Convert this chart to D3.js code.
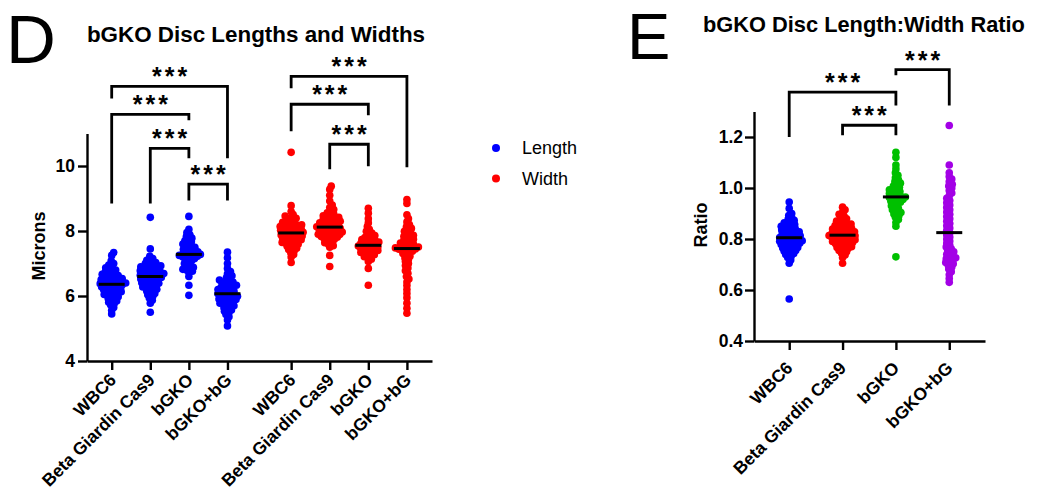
<!DOCTYPE html>
<html>
<head>
<meta charset="utf-8">
<script src="https://cdn.jsdelivr.net/npm/d3@7"></script>
<style>
body { margin: 0; background: #fff; }
text { font-family: "Liberation Sans", Arial, sans-serif; fill: #000; }
.axis path, .axis line { stroke: #000; stroke-width: 2.4px; }
.axis text { font-size: 17.5px; font-weight: bold; }
</style>
</head>
<body>
<div id="chart"></div>
<script>
var groups = ["WBC6", "Beta Giardin Cas9", "bGKO", "bGKO+bG"];

// disc lengths (microns)
var lenWBC6 = [5.45, 5.56, 5.65, 5.72, 5.77, 5.81, 5.85, 5.89, 5.92, 5.95, 5.98, 6.0, 6.03, 6.05, 6.07, 6.09, 6.11, 6.13, 6.15, 6.18, 6.19, 6.21, 6.23, 6.25, 6.27, 6.28, 6.3, 6.32, 6.34, 6.35,
    6.37, 6.38, 6.4, 6.42, 6.44, 6.45, 6.47, 6.49, 6.51, 6.53, 6.54, 6.57, 6.59, 6.61, 6.63, 6.65, 6.67, 6.69, 6.72, 6.74, 6.77, 6.8, 6.83, 6.87, 6.9, 6.95, 7.0, 7.08, 7.25, 7.34];
var lenBeta = [5.5, 5.78, 5.87, 5.94, 5.99, 6.04, 6.08, 6.12, 6.15, 6.18, 6.21, 6.23, 6.26, 6.28, 6.31, 6.33, 6.35, 6.37, 6.39, 6.41, 6.43, 6.45, 6.47, 6.49, 6.5, 6.52, 6.54, 6.56, 6.57, 6.59,
    6.61, 6.62, 6.64, 6.65, 6.67, 6.68, 6.69, 6.71, 6.73, 6.74, 6.76, 6.78, 6.79, 6.81, 6.83, 6.85, 6.87, 6.88, 6.9, 6.93, 6.95, 6.97, 7.0, 7.03, 7.07, 7.1, 7.15, 7.22, 7.45, 8.42];
var lenBGKO = [6.02, 6.33, 6.6, 6.72, 6.76, 6.8, 6.82, 6.85, 6.88, 6.92, 6.96, 7.0, 7.04, 7.08, 7.12, 7.15, 7.18, 7.2, 7.22, 7.24, 7.25, 7.27, 7.28,
    7.3, 7.32, 7.34, 7.36, 7.38, 7.41, 7.44, 7.47, 7.5, 7.53, 7.56, 7.6, 7.63, 7.67, 7.7, 7.74, 7.78, 7.83, 7.88, 7.95, 8.05, 8.45];
var lenBG = [5.08, 5.26, 5.36, 5.43, 5.49, 5.53, 5.57, 5.61, 5.64, 5.68, 5.7, 5.73, 5.76, 5.78, 5.81, 5.83, 5.85, 5.87, 5.89, 5.91, 5.94, 5.95, 5.97, 5.99, 6.01, 6.03, 6.05, 6.07,
    6.09, 6.11, 6.13, 6.15, 6.17, 6.2, 6.22, 6.24, 6.26, 6.28, 6.31, 6.33, 6.35, 6.38, 6.41, 6.43, 6.46, 6.49, 6.53, 6.57, 6.62, 6.68, 6.75, 6.85, 7.0, 7.18, 7.35];

// disc widths (microns)
var widWBC6 = [7.03, 7.2, 7.28, 7.34, 7.39, 7.43, 7.47, 7.5, 7.53, 7.56, 7.59, 7.61, 7.63, 7.65, 7.67, 7.69, 7.71, 7.73, 7.75, 7.77, 7.78, 7.8, 7.82, 7.84, 7.85, 7.87, 7.88, 7.9, 7.92, 7.93,
    7.95, 7.96, 7.98, 7.99, 8.01, 8.02, 8.04, 8.06, 8.07, 8.09, 8.1, 8.12, 8.14, 8.16, 8.17, 8.19, 8.21, 8.23, 8.25, 8.27, 8.3, 8.33, 8.36, 8.39, 8.42, 8.46, 8.51, 8.6, 8.78, 10.42];
var widBeta = [6.91, 7.25, 7.5, 7.55, 7.6, 7.64, 7.67, 7.71, 7.74, 7.76, 7.79, 7.81, 7.83, 7.85, 7.87, 7.89, 7.9, 7.92, 7.94, 7.96, 7.97, 7.99, 8.0, 8.02, 8.04, 8.05, 8.07, 8.08, 8.1, 8.11,
    8.13, 8.14, 8.16, 8.18, 8.2, 8.21, 8.23, 8.25, 8.26, 8.28, 8.3, 8.32, 8.34, 8.36, 8.38, 8.4, 8.42, 8.44, 8.47, 8.49, 8.52, 8.56, 8.6, 8.66, 8.72, 8.8, 8.92, 9.1, 9.28, 9.38];
var widBGKO = [6.33, 6.85, 7.06, 7.13, 7.18, 7.21, 7.24, 7.27, 7.3, 7.32, 7.34, 7.36, 7.38, 7.4, 7.42, 7.44, 7.46, 7.48, 7.49, 7.51, 7.53, 7.54, 7.56,
    7.58, 7.6, 7.62, 7.64, 7.66, 7.68, 7.7, 7.72, 7.74, 7.77, 7.8, 7.83, 7.86, 7.9, 7.94, 7.99, 8.05, 8.14, 8.25, 8.38, 8.55, 8.7];
var widBG = [5.47, 5.62, 5.78, 5.95, 6.08, 6.2, 6.32, 6.43, 6.52, 6.6, 6.7, 6.78, 6.86, 6.94, 7.0, 7.06, 7.12, 7.17, 7.22, 7.27, 7.31, 7.35, 7.38, 7.41, 7.43, 7.44, 7.45, 7.46,
    7.48, 7.51, 7.53, 7.55, 7.58, 7.6, 7.63, 7.66, 7.69, 7.72, 7.75, 7.78, 7.81, 7.84, 7.87, 7.91, 7.95, 7.99, 8.03, 8.08, 8.13, 8.2, 8.28, 8.38, 8.5, 8.85, 8.97];

// length:width ratio
var ratWBC6 = [0.565, 0.705, 0.718, 0.727, 0.733, 0.739, 0.743, 0.747, 0.752, 0.755, 0.759, 0.762, 0.765, 0.767, 0.77, 0.773, 0.775, 0.778, 0.78, 0.783, 0.785, 0.787, 0.789, 0.791, 0.793, 0.795, 0.797, 0.8, 0.802, 0.804,
    0.806, 0.808, 0.81, 0.813, 0.815, 0.818, 0.82, 0.823, 0.825, 0.828, 0.83, 0.833, 0.835, 0.838, 0.841, 0.844, 0.847, 0.85, 0.853, 0.857, 0.86, 0.864, 0.868, 0.873, 0.878, 0.884, 0.892, 0.9, 0.92, 0.945];
var ratBeta = [0.705, 0.727, 0.737, 0.744, 0.75, 0.755, 0.759, 0.763, 0.767, 0.77, 0.773, 0.776, 0.779, 0.781, 0.784, 0.786, 0.788, 0.79, 0.793, 0.795, 0.797, 0.799, 0.801, 0.803, 0.805, 0.807, 0.809, 0.811, 0.813, 0.814,
    0.816, 0.818, 0.82, 0.822, 0.824, 0.826, 0.828, 0.83, 0.833, 0.835, 0.837, 0.839, 0.842, 0.844, 0.847, 0.85, 0.853, 0.856, 0.859, 0.862, 0.866, 0.87, 0.874, 0.879, 0.884, 0.89, 0.897, 0.905, 0.915, 0.925];
var ratBGKO = [0.73, 0.85, 0.865, 0.876, 0.885, 0.892, 0.898, 0.904, 0.91, 0.915, 0.92, 0.925, 0.93, 0.935, 0.94, 0.944, 0.948, 0.952, 0.955, 0.958, 0.961, 0.963, 0.965,
    0.968, 0.972, 0.975, 0.978, 0.982, 0.986, 0.989, 0.993, 0.998, 1.003, 1.008, 1.013, 1.019, 1.025, 1.032, 1.04, 1.05, 1.06, 1.075, 1.09, 1.12, 1.14];
var ratBG = [0.63, 0.645, 0.66, 0.672, 0.682, 0.69, 0.697, 0.703, 0.708, 0.713, 0.718, 0.722, 0.726, 0.73, 0.735, 0.74, 0.745, 0.75, 0.756, 0.762, 0.769, 0.776, 0.784, 0.792, 0.8, 0.808, 0.816, 0.825,
    0.834, 0.843, 0.852, 0.861, 0.87, 0.879, 0.888, 0.897, 0.906, 0.915, 0.924, 0.933, 0.942, 0.951, 0.96, 0.97, 0.98, 0.99, 1.0, 1.008, 1.015, 1.025, 1.035, 1.045, 1.06, 1.09, 1.245];

// significance brackets: [from column, to column, bar, left leg end, right leg end]
var sigD = [
    [0, 3, 12.45, 12.08, 10.24],
    [0, 2, 11.59, 8.85, 11.41],
    [1, 2, 10.54, 8.85, 10.24],
    [2, 3, 9.44, 8.94, 8.94],
    [4, 7, 12.76, 12.39, 9.96],
    [4, 6, 11.90, 11.07, 11.56],
    [5, 6, 10.67, 9.90, 9.99]
];
var sigE = [
    [0, 2, 1.376, 1.2, 1.324],
    [1, 2, 1.246, 1.207, 1.207],
    [2, 3, 1.464, 1.442, 1.324]
];
var sigLabel = "***";

var seriesD = ["Length", "Width"];
var colorsD = ["#0000ff", "#ff0000"];
var colorsE = ["#0000ff", "#ff0000", "#00c000", "#a300e6"];

var svg = d3.select("#chart").append("svg")
    .attr("width", 1037)
    .attr("height", 502);

var dotR = 3.8, swarmGap = 3.5, medianHalf = 13;

// simple beeswarm: each point takes the nearest free horizontal offset
function swarm(vals, y) {
    var placed = [];
    vals.slice().sort(d3.ascending).forEach(function (v) {
        var py = y(v), off = 0;
        for (var k = 0; k < 400; k++) {
            off = (k % 2 ? 1 : -1) * Math.ceil(k / 2) * 0.5;
            var ok = placed.every(function (p) {
                var dx = p.dx - off, dy = p.py - py;
                return dx * dx + dy * dy >= swarmGap * swarmGap;
            });
            if (ok) break;
        }
        placed.push({v: v, py: py, dx: off});
    });
    return placed;
}

function drawColumns(g, cols, x, y) {
    cols.forEach(function (c) {
        var cx = x(c.slot);
        g.append("g").selectAll("circle")
            .data(swarm(c.values, y))
            .enter().append("circle")
            .attr("cx", function (d) { return cx + d.dx; })
            .attr("cy", function (d) { return d.py; })
            .attr("r", dotR)
            .attr("fill", c.color);
        var m = y(d3.median(c.values));
        g.append("line")
            .attr("x1", cx - medianHalf).attr("x2", cx + medianHalf)
            .attr("y1", m).attr("y2", m)
            .attr("stroke", "#000").attr("stroke-width", 3);
    });
}

function drawBrackets(g, sig, slots, x, y) {
    sig.forEach(function (s) {
        var x1 = x(slots[s[0]]), x2 = x(slots[s[1]]), yb = y(s[2]);
        g.append("path")
            .attr("d", "M" + x1 + "," + y(s[3]) + "V" + yb + "H" + x2 + "V" + y(s[4]))
            .attr("fill", "none")
            .attr("stroke", "#000")
            .attr("stroke-width", 2.8);
        g.append("text")
            .attr("x", (x1 + x2) / 2 + 1.5)
            .attr("y", yb - 1)
            .attr("text-anchor", "middle")
            .style("font-size", "25px")
            .style("font-weight", "bold")
            .style("letter-spacing", "3px")
            .text(sigLabel);
    });
}

// ---------- panel D ----------
var slotsD = d3.range(8).map(function (i) { return i + (i >= 4 ? 0.65 : 0); });
var xD = d3.scaleLinear().domain([-0.64, 8.3]).range([87, 432]);
var yD = d3.scaleLinear().domain([4, 11]).range([361, 133.5]);

var colsD = [lenWBC6, lenBeta, lenBGKO, lenBG, widWBC6, widBeta, widBGKO, widBG].map(function (v, i) {
    return {values: v, slot: slotsD[i], color: colorsD[i < 4 ? 0 : 1]};
});

var gD = svg.append("g");
drawColumns(gD, colsD, xD, yD);
drawBrackets(gD, sigD, slotsD, xD, yD);

gD.append("g")
    .attr("class", "axis")
    .attr("transform", "translate(87,0)")
    .call(d3.axisLeft(yD).tickValues([4, 6, 8, 10]).tickFormat(d3.format("d"))
        .tickSize(9).tickPadding(3).tickSizeOuter(0));

var gxD = gD.append("g")
    .attr("class", "axis")
    .attr("transform", "translate(0,361)")
    .call(d3.axisBottom(xD).tickValues(slotsD).tickSize(9).tickSizeOuter(0)
        .tickFormat(function (d, i) { return groups[i % 4]; }));
gxD.selectAll(".tick text")
    .attr("text-anchor", "end")
    .attr("x", 0).attr("y", 0).attr("dy", null)
    .attr("transform", "translate(5,20) rotate(-45)");

gD.append("text")
    .attr("transform", "translate(45,246) rotate(-90)")
    .attr("text-anchor", "middle")
    .style("font-size", "18px").style("font-weight", "bold")
    .text("Microns");

gD.append("text")
    .attr("x", 256).attr("y", 42)
    .attr("text-anchor", "middle")
    .style("font-size", "22.4px").style("font-weight", "bold")
    .text("bGKO Disc Lengths and Widths");

gD.append("text")
    .attr("x", 6).attr("y", 63)
    .style("font-size", "69px")
    .text("D");

var legend = gD.append("g").selectAll("g")
    .data(seriesD)
    .enter().append("g")
    .attr("transform", function (d, i) { return "translate(496," + (148 + i * 30.5) + ")"; });
legend.append("circle").attr("r", 4).attr("fill", function (d, i) { return colorsD[i]; });
legend.append("text").attr("x", 26).attr("y", 6)
    .style("font-size", "18px")
    .text(function (d) { return d; });

// ---------- panel E ----------
var slotsE = d3.range(4);
var xE = d3.scaleLinear().domain([-0.66, 3.67]).range([754, 985]);
var yE = d3.scaleLinear().domain([0.4, 1.3]).range([341, 111.5]);

var colsE = [ratWBC6, ratBeta, ratBGKO, ratBG].map(function (v, i) {
    return {values: v, slot: slotsE[i], color: colorsE[i]};
});

var gE = svg.append("g");
drawColumns(gE, colsE, xE, yE);
drawBrackets(gE, sigE, slotsE, xE, yE);

gE.append("g")
    .attr("class", "axis")
    .attr("transform", "translate(754,0)")
    .call(d3.axisLeft(yE).tickValues([0.4, 0.6, 0.8, 1.0, 1.2]).tickFormat(d3.format(".1f"))
        .tickSize(9).tickPadding(2).tickSizeOuter(0));

var gxE = gE.append("g")
    .attr("class", "axis")
    .attr("transform", "translate(0,341)")
    .call(d3.axisBottom(xE).tickValues(slotsE).tickSize(9).tickSizeOuter(0)
        .tickFormat(function (d, i) { return groups[i]; }));
gxE.selectAll(".tick text")
    .attr("text-anchor", "end")
    .attr("x", 0).attr("y", 0).attr("dy", null)
    .attr("transform", "translate(4,28) rotate(-45)");

gE.append("text")
    .attr("transform", "translate(707,225) rotate(-90)")
    .attr("text-anchor", "middle")
    .style("font-size", "18px").style("font-weight", "bold")
    .text("Ratio");

gE.append("text")
    .attr("x", 864).attr("y", 32)
    .attr("text-anchor", "middle")
    .style("font-size", "21.8px").style("font-weight", "bold")
    .text("bGKO Disc Length:Width Ratio");

gE.append("text")
    .attr("x", 627).attr("y", 59)
    .style("font-size", "65px")
    .text("E");
</script>
</body>
</html>
